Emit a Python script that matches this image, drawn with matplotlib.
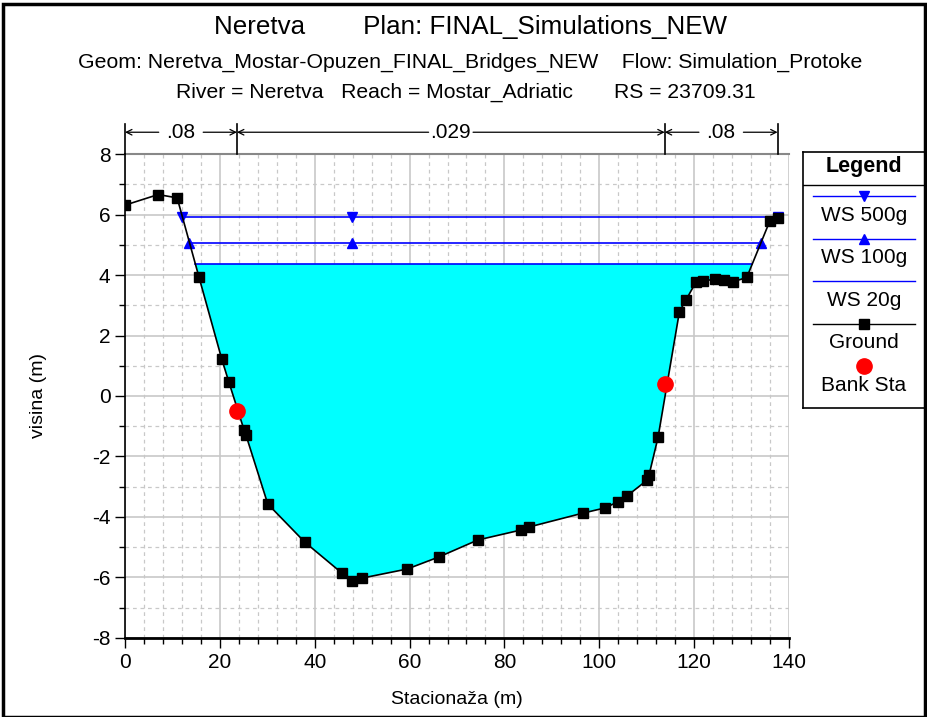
import numpy as np
import matplotlib.pyplot as plt
from matplotlib.lines import Line2D
from matplotlib.patches import Rectangle

plt.rcParams['font.family'] = ['Liberation Sans', 'DejaVu Sans']
plt.rcParams['axes.unicode_minus'] = False

# ground profile (station, elevation)
sta = [0.0, 7.0, 11.0, 15.6, 20.4, 21.9, 25.1, 25.5, 30.1, 37.9, 45.7, 47.9, 50.0,
       59.5, 66.2, 74.4, 83.5, 85.2, 96.6, 101.2, 103.9, 105.8, 110.1, 110.5, 112.4,
       116.9, 118.3, 120.4, 121.8, 124.3, 126.2, 128.1, 131.1, 136.0, 137.6]
elev = [6.31, 6.66, 6.55, 3.93, 1.22, 0.46, -1.12, -1.29, -3.57, -4.83, -5.85, -6.12, -6.02,
        -5.72, -5.32, -4.76, -4.43, -4.33, -3.87, -3.70, -3.50, -3.31, -2.78, -2.61, -1.36,
        2.79, 3.18, 3.77, 3.80, 3.86, 3.82, 3.77, 3.92, 5.80, 5.89]

bank_sta = [23.6, 113.8]
bank_elev = [-0.50, 0.40]

ws_names = ['WS 500g', 'WS 100g', 'WS 20g']
ws_elev = [5.93, 5.07, 4.37]
ws_marker = ['v', '^', None]

mann_n = ['.08', '.029', '.08']
mann_edges = [0.0, 23.6, 113.8, 137.6]

sta = np.array(sta)
elev = np.array(elev)


def crossings(level):
    # first and last points where the ground crosses a water level
    pts = []
    for i in range(len(sta) - 1):
        a, b = elev[i] - level, elev[i + 1] - level
        if a * b < 0:
            t = a / (a - b)
            pts.append((i, sta[i] + t * (sta[i + 1] - sta[i])))
    left = pts[0]
    right = pts[-1] if len(pts) > 1 else (len(sta) - 1, sta[-1])
    return left, right


fig = plt.figure(figsize=(9.28, 7.17), dpi=100)
ax = fig.add_axes([0.1347, 0.1102, 0.7155, 0.675])

# water fill for WS 20g
(i0, x0), (i1, x1) = crossings(ws_elev[2])
px = [x0] + list(sta[i0 + 1:i1 + 1]) + [x1]
py = [ws_elev[2]] + list(elev[i0 + 1:i1 + 1]) + [ws_elev[2]]
ax.fill(px, py, color='#00ffff', zorder=2, lw=0)

for name, lev, mk in zip(ws_names, ws_elev, ws_marker):
    (i0, x0), (i1, x1) = crossings(lev)
    ax.plot([x0, x1], [lev, lev], color='#0000ff', lw=1.2, zorder=3)
    if mk:
        ax.plot([x0, 47.9, x1], [lev] * 3, ls='none', marker=mk, color='#0000ff', ms=7, zorder=4)

ax.plot(sta, elev, color='black', lw=1.2, marker='s', ms=6.5, zorder=5)
ax.plot(bank_sta, bank_elev, ls='none', marker='o', color='#ff0000', ms=11, zorder=6)

ax.set_xlim(0, 140)
ax.set_ylim(-8, 8)
ax.set_xticks(np.arange(0, 141, 20))
ax.set_xticks(np.arange(0, 141, 4), minor=True)
ax.set_yticks(np.arange(-8, 9, 2))
ax.set_yticks(np.arange(-8, 9, 1), minor=True)
ax.grid(which='major', color='#c8c8c8', lw=1.2)
ax.grid(which='minor', color='#c8c8c8', lw=0.9, ls=(0, (3, 3)))
ax.set_axisbelow(True)
ax.tick_params(which='major', length=7, labelsize=15)
ax.tick_params(which='minor', length=4)
ax.tick_params(which='both', width=1.0)
for s in ['top', 'right']:
    ax.spines[s].set_visible(False)
ax.spines['bottom'].set_linewidth(2)
ax.spines['left'].set_linewidth(1.2)
ax.axhline(8, color='#888888', lw=1.5, zorder=1, clip_on=False)
ax.set_xlabel('Stacionaža (m)', fontsize=14, labelpad=14)
ax.set_ylabel('visina (m)', fontsize=14, labelpad=32)

# Manning's n regions above the plot
for xe in mann_edges:
    ax.plot([xe, xe], [8, 9.0], color='black', lw=1.2, clip_on=False)
for k, lab in enumerate(mann_n):
    xa, xb = mann_edges[k], mann_edges[k + 1]
    xm = (xa + xb) / 2
    for xe in (xa, xb):
        ax.annotate('', xy=(xe, 8.72), xytext=(xm, 8.72), annotation_clip=False,
                    arrowprops=dict(arrowstyle='->', lw=0.9, shrinkA=16, shrinkB=0))
    ax.text(xm, 8.72, lab, ha='center', va='center', fontsize=15)

fig.text(0.507, 0.963, 'Neretva        Plan: FINAL_Simulations_NEW', ha='center', va='center', fontsize=18.7)
fig.text(0.507, 0.913, 'Geom: Neretva_Mostar-Opuzen_FINAL_Bridges_NEW    Flow: Simulation_Protoke',
         ha='center', va='center', fontsize=15.3)
fig.text(0.502, 0.871, 'River = Neretva   Reach = Mostar_Adriatic       RS = 23709.31',
         ha='center', va='center', fontsize=15.2)

# legend box
lg = fig.add_axes([0.8653, 0.431, 0.1315, 0.357])
lg.set_xlim(0, 1)
lg.set_ylim(0, 1)
lg.set_xticks([])
lg.set_yticks([])
for s in lg.spines.values():
    s.set_linewidth(1.2)
lg.text(0.5, 0.945, 'Legend', ha='center', va='center', fontsize=15.5, fontweight='bold')
lg.axhline(0.871, color='black', lw=1.0)
entries = [('WS 500g', '#0000ff', 'v', '-'), ('WS 100g', '#0000ff', '^', '-'),
           ('WS 20g', '#0000ff', None, '-'), ('Ground', 'black', 's', '-'),
           ('Bank Sta', '#ff0000', 'o', 'none')]
for j, (lab, col, mk, ls) in enumerate(entries):
    yl = 0.828 - j * 0.166
    if ls != 'none':
        lg.add_line(Line2D([0.08, 0.92], [yl, yl], color=col, lw=1.0))
    if mk:
        lg.plot([0.5], [yl], marker=mk, color=col, ms=11 if mk == 'o' else 6.5, ls='none')
    lg.text(0.5, yl - 0.076, lab, ha='center', va='center', fontsize=15)

fig.patches.append(Rectangle((0.003, 0.0), 0.994, 0.995, transform=fig.transFigure,
                             fill=False, lw=2.5, color='black'))

plt.savefig('out.png', dpi=100)
